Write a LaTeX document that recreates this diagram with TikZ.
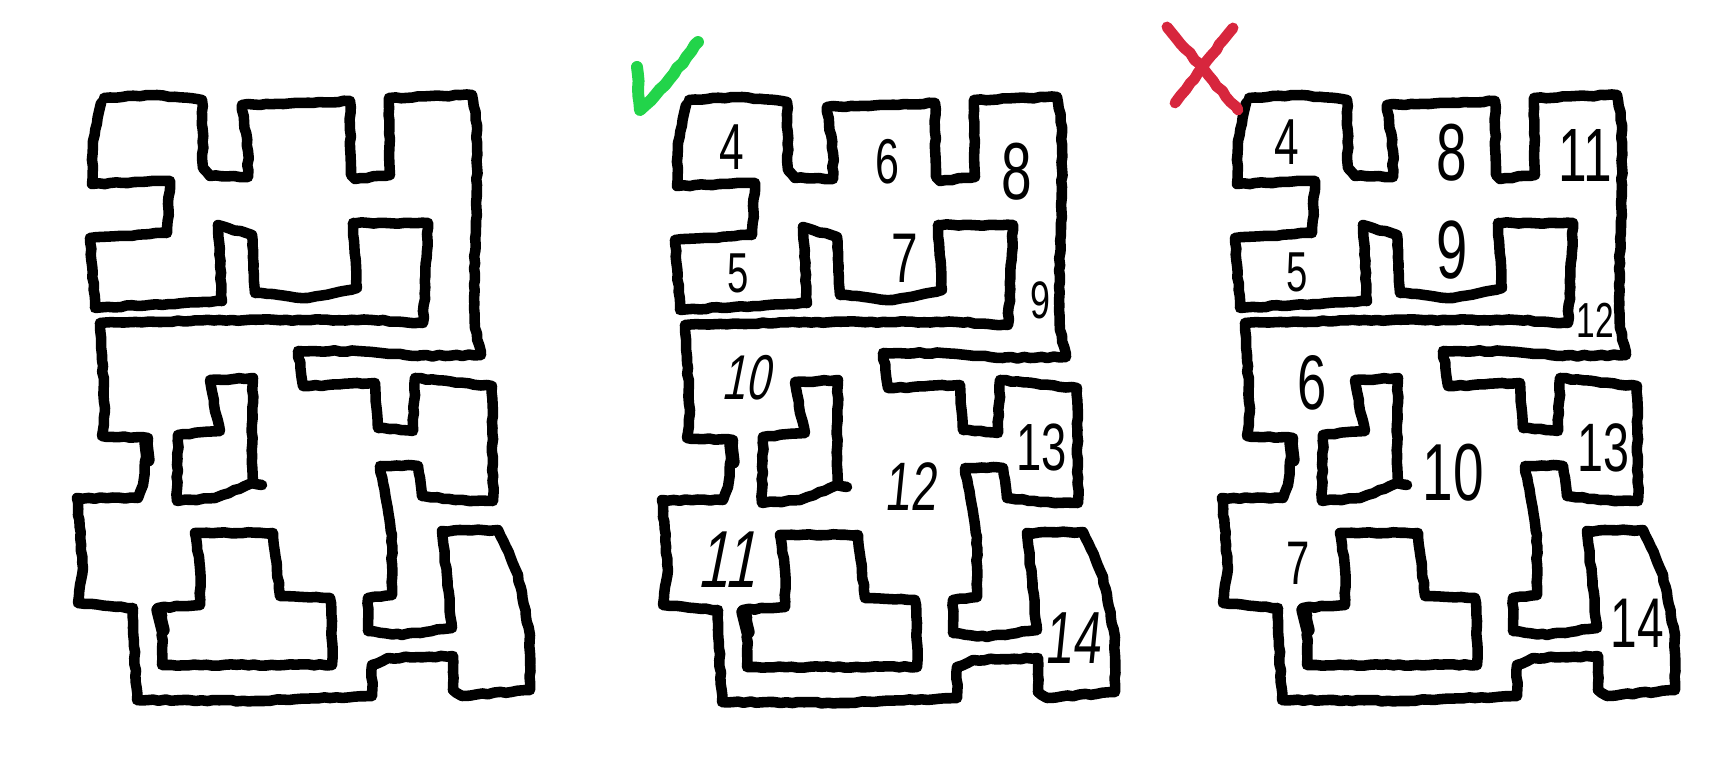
\documentclass[tikz,border=0pt]{standalone}
\usepackage{fontspec}
\setmainfont{Liberation Sans}
\newfontfamily\hand[FakeStretch=0.68]{Liberation Sans}
\usetikzlibrary{decorations.pathmorphing}
\definecolor{okgreen}{HTML}{22D44A}
\definecolor{badred}{HTML}{D7263D}
\tikzset{
  wall/.style={draw=black,line width=3pt,line join=round,line cap=round,
    decorate,decoration={random steps,segment length=1.7pt,amplitude=0.22pt}},
  blob/.style={draw=black,line width=3.8pt,line cap=round},
  mark/.style={line width=#1,line cap=round,line join=round,
    decorate,decoration={random steps,segment length=2pt,amplitude=0.25pt}},
  dig/.style={font=\fontsize{#1}{#1}\selectfont\hand,inner sep=0pt,text=black}
}
\newcommand{\mapwalls}{%
  \pgfmathsetseed{7}
  \draw[wall] (689,100) -- (742,97) -- (787,102) -- (788,170) -- (795,178) -- (833,179)
    -- (833,153) -- (827,107) -- (935,103) -- (936,177) -- (940,181) -- (975,177)
    -- (974,100) -- (1057,97) -- (1062,127) -- (1062,187) -- (1059,287) -- (1060,330)
    -- (1066,357) -- (1003,358) -- (943,353) -- (883,353) -- (888,388) -- (960,385)
    -- (963,430) -- (998,433) -- (1000,380) -- (1077,388) -- (1078,503) -- (1040,502)
    -- (1007,498) -- (1003,468) -- (993,467) -- (965,468) -- (977,537) -- (977,597)
    -- (953,600) -- (953,633) -- (987,637) -- (1037,630) -- (1027,533) -- (1083,532)
    -- (1103,577) -- (1115,637) -- (1115,692) -- (1047,698) -- (1038,692) -- (1038,658)
    -- (973,660) -- (957,667) -- (957,698) -- (840,703) -- (722,702) -- (718,630)
    -- (718,610) -- (663,605) -- (668,570) -- (662,500) -- (723,500) -- (728,487)
    -- (733,440) -- (687,438) -- (690,410) -- (685,325) -- (817,322) -- (957,322)
    -- (1008,325) -- (1012,253) -- (1013,225) -- (938,225) -- (942,290) -- (893,300)
    -- (840,295) -- (837,237) -- (803,227) -- (807,303) -- (680,310) -- (675,240)
    -- (752,235) -- (755,183) -- (677,186) -- (678,143) -- (686,105);
  \draw[wall] (795,382) -- (838,380) -- (837,485) -- (830,488) -- (800,500) -- (762,503)
    -- (763,437) -- (805,433) -- (800,413) -- cycle;
  \draw[wall] (837,485) -- (847,487);
  \draw[wall] (780,535) -- (858,535) -- (862,573) -- (865,598) -- (915,600) -- (917,623)
    -- (917,667) -- (747,667) -- (747,617) -- (743,610) -- (785,607) -- (785,570) -- cycle;
  \draw[blob] (731,445) -- (733,462);
  \draw[blob] (743,612) -- (748,632);
}
\begin{document}
\begin{tikzpicture}[x=0.01cm,y=-0.01cm]
\useasboundingbox (0,0) rectangle (1717,776);
\begin{scope}[shift={(-585,-2)}]\mapwalls\end{scope}
\begin{scope}\mapwalls\end{scope}
\begin{scope}[shift={(560,-2)}]\mapwalls\end{scope}
% check and cross
\pgfmathsetseed{3}
\draw[mark=3.4pt,okgreen] (637,67) -- (640,110) -- (665,85) -- (698,42);
\draw[mark=3.1pt,badred] (1167,27) -- (1238,110);
\draw[mark=3.1pt,badred] (1233,28) -- (1175,103);
% digits, middle map
\node[dig=18.5] (a4) at (732,147) {4};
\node[dig=18] (a6) at (887,162) {6};
\node[dig=23] (a8) at (1017,172) {8};
\node[dig=16] (a5) at (738,273) {5};
\node[dig=20] (a7) at (905,258) {7};
\node[dig=15] (a9) at (1040,300) {9};
\node[dig=18,xslant=0.2] (a10) at (750,378) {10};
\node[dig=23,xslant=0.2] (a11) at (732,560) {11};
\node[dig=19.5,xslant=0.1] (a12) at (913,487) {12};
\node[dig=19] (a13) at (1042,448) {13};
\node[dig=21,xslant=0.1] (a14) at (1075,638) {14};
% digits, right map
\node[dig=18.5] (b4) at (1287,142) {4};
\node[dig=23] (b8) at (1452,153) {8};
\node[dig=21.5] (b11) at (1585,155) {11};
\node[dig=16] (b5) at (1297,272) {5};
\node[dig=23.5] (b9) at (1452,250) {9};
\node[dig=14] (b12) at (1595,320) {12};
\node[dig=22] (b6) at (1312,383) {6};
\node[dig=23] (b10) at (1453,473) {10};
\node[dig=17.5] (b7) at (1298,563) {7};
\node[dig=19.5] (b13) at (1603,448) {13};
\node[dig=20] (b14) at (1637,623) {14};
\end{tikzpicture}
\end{document}
